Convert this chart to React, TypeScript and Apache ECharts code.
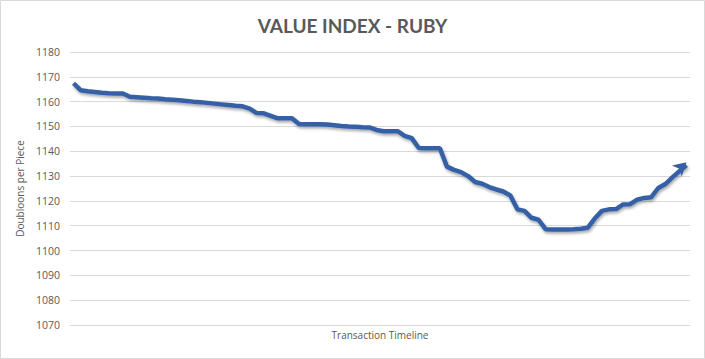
import React, { useEffect, useRef } from "react";
import * as echarts from "echarts";

const TITLE = "VALUE INDEX - RUBY";
const X_NAME = "Transaction Timeline";
const Y_NAME = "Doubloons per Piece";
const Y_MIN = 1070;
const Y_MAX = 1180;
const Y_STEP = 10;

const values: number[] = [
  1167.4, 1164.6, 1164.2, 1163.9, 1163.6, 1163.4, 1163.3, 1163.3, 1162.0, 1161.8,
  1161.6, 1161.4, 1161.3, 1161.0, 1160.8, 1160.6, 1160.3, 1160.0, 1159.8, 1159.5,
  1159.2, 1158.9, 1158.6, 1158.3, 1158.1, 1157.2, 1155.4, 1155.3, 1154.3, 1153.3,
  1153.3, 1153.3, 1151.0, 1150.9, 1150.9, 1150.9, 1150.8, 1150.5, 1150.2, 1150.0,
  1149.9, 1149.7, 1149.6, 1148.6, 1148.1, 1148.1, 1148.1, 1146.2, 1145.3, 1141.3,
  1141.2, 1141.2, 1141.2, 1133.8, 1132.5, 1131.6, 1130.0, 1127.6, 1126.9, 1125.6,
  1124.6, 1123.8, 1122.2, 1116.6, 1116.0, 1113.2, 1112.4, 1108.6, 1108.5, 1108.5,
  1108.5, 1108.6, 1108.8, 1109.2, 1113.0, 1116.0, 1116.6, 1116.7, 1118.6, 1118.7,
  1120.5, 1121.2, 1121.5, 1125.2, 1126.8, 1129.5, 1132.0, 1134.4,
];

const categories: string[] = values.map((_, i) => String(i + 1));

export default function App() {
  const ref = useRef<HTMLDivElement>(null);

  useEffect(() => {
    document.body.style.margin = "0";
    if (!ref.current) return;
    const chart = echarts.init(ref.current, undefined, { renderer: "svg" });
    const last = values.length - 1;
    const data = values.map((v, i) =>
      i === last
        ? { value: v, symbol: "arrow", symbolSize: [11, 13], symbolRotate: -48, symbolOffset: [0, -3] }
        : { value: v }
    );
    chart.setOption({
      animation: false,
      backgroundColor: "#ffffff",
      title: {
        text: TITLE,
        left: "center",
        top: 11,
        textStyle: {
          fontFamily: "Lato",
          fontWeight: "bold",
          fontSize: 19,
          color: "#595959",
        },
      },
      graphic: [
        {
          type: "rect",
          shape: { x: 0.5, y: 0.5, width: 704, height: 358 },
          style: { fill: "none", stroke: "#D9D9D9", lineWidth: 1 },
          silent: true,
        },
      ],
      grid: { left: 70, right: 15, top: 52, bottom: 34 },
      xAxis: {
        type: "category",
        data: categories,
        boundaryGap: true,
        axisLine: { show: true, lineStyle: { color: "#D9D9D9", width: 1 } },
        axisTick: { show: false },
        axisLabel: { show: false },
        name: X_NAME,
        nameLocation: "middle",
        nameGap: 5,
        nameTextStyle: { fontFamily: "Open Sans", fontSize: 10, color: "#595959" },
      },
      yAxis: {
        type: "value",
        min: Y_MIN,
        max: Y_MAX,
        interval: Y_STEP,
        axisLine: { show: false },
        axisTick: { show: false },
        axisLabel: {
          margin: 10,
          fontFamily: "Open Sans",
          fontSize: 10.5,
          color: "#595959",
          formatter: (v: number) => String(v),
        },
        splitLine: { lineStyle: { color: "#D9D9D9", width: 1 } },
        name: Y_NAME,
        nameLocation: "middle",
        nameGap: 36,
        nameRotate: 90,
        nameTextStyle: { fontFamily: "Open Sans", fontSize: 10, color: "#595959" },
      },
      series: [
        {
          type: "line",
          data,
          symbol: "none",
          showSymbol: true,
          showAllSymbol: true,
          itemStyle: { color: "#3560A6" },
          lineStyle: {
            color: "#3560A6",
            width: 4.5,
            shadowColor: "rgba(0,0,0,0.35)",
            shadowBlur: 3,
            shadowOffsetX: 1,
            shadowOffsetY: 2,
          },
        },
      ],
    });
    return () => chart.dispose();
  }, []);

  return <div ref={ref} style={{ width: 705, height: 359 }} />;
}
